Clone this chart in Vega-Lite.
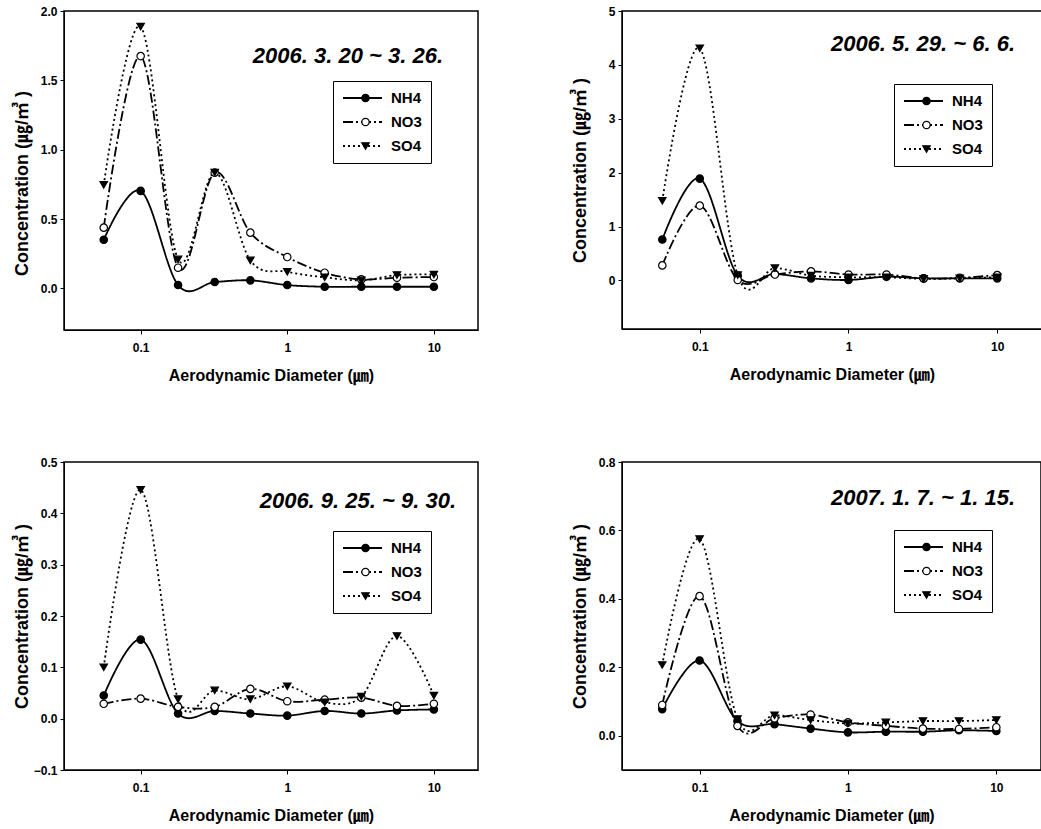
{
  "$schema": "https://vega.github.io/schema/vega-lite/v6.json",
  "background": "white",
  "padding": {"left": 12, "top": 4, "right": 2, "bottom": 0},
  "datasets": {
    "p1": [
      {"d": 0.056, "ion": "NH4", "c": 0.351}, {"d": 0.1, "ion": "NH4", "c": 0.703}, {"d": 0.18, "ion": "NH4", "c": 0.024}, {"d": 0.32, "ion": "NH4", "c": 0.046}, {"d": 0.56, "ion": "NH4", "c": 0.058}, {"d": 1.0, "ion": "NH4", "c": 0.024}, {"d": 1.8, "ion": "NH4", "c": 0.012}, {"d": 3.2, "ion": "NH4", "c": 0.012}, {"d": 5.6, "ion": "NH4", "c": 0.012}, {"d": 10, "ion": "NH4", "c": 0.012},
      {"d": 0.056, "ion": "NO3", "c": 0.438}, {"d": 0.1, "ion": "NO3", "c": 1.675}, {"d": 0.18, "ion": "NO3", "c": 0.149}, {"d": 0.32, "ion": "NO3", "c": 0.835}, {"d": 0.56, "ion": "NO3", "c": 0.402}, {"d": 1.0, "ion": "NO3", "c": 0.226}, {"d": 1.8, "ion": "NO3", "c": 0.113}, {"d": 3.2, "ion": "NO3", "c": 0.065}, {"d": 5.6, "ion": "NO3", "c": 0.077}, {"d": 10, "ion": "NO3", "c": 0.082},
      {"d": 0.056, "ion": "SO4", "c": 0.746}, {"d": 0.1, "ion": "SO4", "c": 1.887}, {"d": 0.18, "ion": "SO4", "c": 0.209}, {"d": 0.32, "ion": "SO4", "c": 0.835}, {"d": 0.56, "ion": "SO4", "c": 0.202}, {"d": 1.0, "ion": "SO4", "c": 0.12}, {"d": 1.8, "ion": "SO4", "c": 0.08}, {"d": 3.2, "ion": "SO4", "c": 0.058}, {"d": 5.6, "ion": "SO4", "c": 0.096}, {"d": 10, "ion": "SO4", "c": 0.1}
    ],
    "p2": [
      {"d": 0.056, "ion": "NH4", "c": 0.76}, {"d": 0.1, "ion": "NH4", "c": 1.89}, {"d": 0.18, "ion": "NH4", "c": 0.09}, {"d": 0.32, "ion": "NH4", "c": 0.12}, {"d": 0.56, "ion": "NH4", "c": 0.04}, {"d": 1.0, "ion": "NH4", "c": 0.01}, {"d": 1.8, "ion": "NH4", "c": 0.07}, {"d": 3.2, "ion": "NH4", "c": 0.04}, {"d": 5.6, "ion": "NH4", "c": 0.04}, {"d": 10, "ion": "NH4", "c": 0.04},
      {"d": 0.056, "ion": "NO3", "c": 0.28}, {"d": 0.1, "ion": "NO3", "c": 1.39}, {"d": 0.18, "ion": "NO3", "c": 0.01}, {"d": 0.32, "ion": "NO3", "c": 0.11}, {"d": 0.56, "ion": "NO3", "c": 0.17}, {"d": 1.0, "ion": "NO3", "c": 0.11}, {"d": 1.8, "ion": "NO3", "c": 0.11}, {"d": 3.2, "ion": "NO3", "c": 0.04}, {"d": 5.6, "ion": "NO3", "c": 0.05}, {"d": 10, "ion": "NO3", "c": 0.1},
      {"d": 0.056, "ion": "SO4", "c": 1.48}, {"d": 0.1, "ion": "SO4", "c": 4.31}, {"d": 0.18, "ion": "SO4", "c": 0.1}, {"d": 0.32, "ion": "SO4", "c": 0.23}, {"d": 0.56, "ion": "SO4", "c": 0.09}, {"d": 1.0, "ion": "SO4", "c": 0.06}, {"d": 1.8, "ion": "SO4", "c": 0.06}, {"d": 3.2, "ion": "SO4", "c": 0.03}, {"d": 5.6, "ion": "SO4", "c": 0.04}, {"d": 10, "ion": "SO4", "c": 0.06}
    ],
    "p3": [
      {"d": 0.056, "ion": "NH4", "c": 0.045}, {"d": 0.1, "ion": "NH4", "c": 0.154}, {"d": 0.18, "ion": "NH4", "c": 0.01}, {"d": 0.32, "ion": "NH4", "c": 0.015}, {"d": 0.56, "ion": "NH4", "c": 0.01}, {"d": 1.0, "ion": "NH4", "c": 0.006}, {"d": 1.8, "ion": "NH4", "c": 0.015}, {"d": 3.2, "ion": "NH4", "c": 0.01}, {"d": 5.6, "ion": "NH4", "c": 0.016}, {"d": 10, "ion": "NH4", "c": 0.018},
      {"d": 0.056, "ion": "NO3", "c": 0.029}, {"d": 0.1, "ion": "NO3", "c": 0.039}, {"d": 0.18, "ion": "NO3", "c": 0.023}, {"d": 0.32, "ion": "NO3", "c": 0.023}, {"d": 0.56, "ion": "NO3", "c": 0.058}, {"d": 1.0, "ion": "NO3", "c": 0.034}, {"d": 1.8, "ion": "NO3", "c": 0.037}, {"d": 3.2, "ion": "NO3", "c": 0.041}, {"d": 5.6, "ion": "NO3", "c": 0.025}, {"d": 10, "ion": "NO3", "c": 0.029},
      {"d": 0.056, "ion": "SO4", "c": 0.1}, {"d": 0.1, "ion": "SO4", "c": 0.446}, {"d": 0.18, "ion": "SO4", "c": 0.038}, {"d": 0.32, "ion": "SO4", "c": 0.055}, {"d": 0.56, "ion": "SO4", "c": 0.038}, {"d": 1.0, "ion": "SO4", "c": 0.063}, {"d": 1.8, "ion": "SO4", "c": 0.032}, {"d": 3.2, "ion": "SO4", "c": 0.043}, {"d": 5.6, "ion": "SO4", "c": 0.161}, {"d": 10, "ion": "SO4", "c": 0.045}
    ],
    "p4": [
      {"d": 0.056, "ion": "NH4", "c": 0.078}, {"d": 0.1, "ion": "NH4", "c": 0.22}, {"d": 0.18, "ion": "NH4", "c": 0.043}, {"d": 0.32, "ion": "NH4", "c": 0.034}, {"d": 0.56, "ion": "NH4", "c": 0.021}, {"d": 1.0, "ion": "NH4", "c": 0.01}, {"d": 1.8, "ion": "NH4", "c": 0.012}, {"d": 3.2, "ion": "NH4", "c": 0.012}, {"d": 5.6, "ion": "NH4", "c": 0.016}, {"d": 10, "ion": "NH4", "c": 0.014},
      {"d": 0.056, "ion": "NO3", "c": 0.09}, {"d": 0.1, "ion": "NO3", "c": 0.408}, {"d": 0.18, "ion": "NO3", "c": 0.029}, {"d": 0.32, "ion": "NO3", "c": 0.051}, {"d": 0.56, "ion": "NO3", "c": 0.062}, {"d": 1.0, "ion": "NO3", "c": 0.039}, {"d": 1.8, "ion": "NO3", "c": 0.029}, {"d": 3.2, "ion": "NO3", "c": 0.021}, {"d": 5.6, "ion": "NO3", "c": 0.02}, {"d": 10, "ion": "NO3", "c": 0.025},
      {"d": 0.056, "ion": "SO4", "c": 0.207}, {"d": 0.1, "ion": "SO4", "c": 0.575}, {"d": 0.18, "ion": "SO4", "c": 0.049}, {"d": 0.32, "ion": "SO4", "c": 0.06}, {"d": 0.56, "ion": "SO4", "c": 0.046}, {"d": 1.0, "ion": "SO4", "c": 0.036}, {"d": 1.8, "ion": "SO4", "c": 0.039}, {"d": 3.2, "ion": "SO4", "c": 0.043}, {"d": 5.6, "ion": "SO4", "c": 0.043}, {"d": 10, "ion": "SO4", "c": 0.046}
    ]
  },
  "columns": 2,
  "spacing": {"row": 71, "column": 91},
  "resolve": {
    "scale": {"strokeDash": "independent", "shape": "independent", "fill": "independent", "stroke": "independent"},
    "legend": {"strokeDash": "independent", "shape": "independent", "fill": "independent", "stroke": "independent"}
  },
  "concat": [
    {
      "width": 414, "height": 319,
      "data": {"name": "p1"},
      "title": {"text": "2006. 3. 20 ~ 3. 26.", "offset": -63, "dx": -35},
      "encoding": {
        "x": {"field": "d", "type": "quantitative", "scale": {"type": "log", "domain": [0.03, 20], "nice": false}, "axis": {"values": [0.1, 1, 10], "format": "~g", "title": "Aerodynamic Diameter (㎛)"}},
        "y": {"field": "c", "type": "quantitative", "scale": {"domain": [-0.3, 2], "nice": false, "zero": false}, "axis": {"values": [0, 0.5, 1, 1.5, 2], "format": ".1f", "title": "Concentration  (㎍/㎥ )", "titleY": 172}}
      },
      "layer": [
        {"mark": {"type": "line", "interpolate": "cardinal", "color": "black", "strokeWidth": 1.8},
         "encoding": {"strokeDash": {"field": "ion", "type": "nominal", "scale": {"domain": ["NH4", "NO3", "SO4"], "range": [[1, 0], [10, 3, 2, 3], [2, 3]]},
           "legend": {"orient": "none", "legendX": 269, "legendY": 70, "title": null, "symbolType": "stroke", "symbolSize": 1521, "symbolStrokeWidth": 2, "symbolStrokeColor": "black", "strokeColor": "black", "padding": 9, "rowPadding": 8, "labelOffset": 8, "clipHeight": 16}}}},
        {"mark": {"type": "point", "filled": true, "size": 55, "strokeWidth": 1.2, "opacity": 1},
         "encoding": {
           "shape": {"field": "ion", "type": "nominal", "scale": {"range": ["circle", "circle", "triangle-down"]}, "legend": {"orient": "none", "legendX": 269, "legendY": 70, "title": null, "symbolSize": 55, "symbolStrokeWidth": 1.2, "padding": 9, "rowPadding": 8, "labelOffset": 8, "labelExpr": "''", "symbolOffset": 16, "clipHeight": 16}},
           "fill": {"field": "ion", "type": "nominal", "scale": {"range": ["black", "white", "black"]}, "legend": {"orient": "none", "legendX": 269, "legendY": 70, "title": null, "symbolSize": 55, "symbolStrokeWidth": 1.2, "padding": 9, "rowPadding": 8, "labelOffset": 8, "labelExpr": "''", "symbolOffset": 16, "clipHeight": 16}},
           "stroke": {"field": "ion", "type": "nominal", "scale": {"range": ["black", "black", "black"]}, "legend": {"orient": "none", "legendX": 269, "legendY": 70, "title": null, "symbolSize": 55, "symbolStrokeWidth": 1.2, "padding": 9, "rowPadding": 8, "labelOffset": 8, "labelExpr": "''", "symbolOffset": 16, "clipHeight": 16}}
         }}
      ]
    },
    {
      "width": 420, "height": 318,
      "data": {"name": "p2"},
      "title": {"text": "2006. 5. 29. ~ 6. 6.", "offset": -51, "dx": -27},
      "encoding": {
        "x": {"field": "d", "type": "quantitative", "scale": {"type": "log", "domain": [0.03, 20], "nice": false}, "axis": {"values": [0.1, 1, 10], "format": "~g", "title": "Aerodynamic Diameter (㎛)"}},
        "y": {"field": "c", "type": "quantitative", "scale": {"domain": [-0.9, 5], "nice": false, "zero": false}, "axis": {"values": [0, 1, 2, 3, 4, 5], "format": "d", "title": "Concentration  (㎍/㎥ )"}}
      },
      "layer": [
        {"mark": {"type": "line", "interpolate": "cardinal", "color": "black", "strokeWidth": 1.8},
         "encoding": {"strokeDash": {"field": "ion", "type": "nominal", "scale": {"domain": ["NH4", "NO3", "SO4"], "range": [[1, 0], [10, 3, 2, 3], [2, 3]]},
           "legend": {"orient": "none", "legendX": 272, "legendY": 73, "title": null, "symbolType": "stroke", "symbolSize": 1521, "symbolStrokeWidth": 2, "symbolStrokeColor": "black", "strokeColor": "black", "padding": 9, "rowPadding": 8, "labelOffset": 8, "clipHeight": 16}}}},
        {"mark": {"type": "point", "filled": true, "size": 55, "strokeWidth": 1.2, "opacity": 1},
         "encoding": {
           "shape": {"field": "ion", "type": "nominal", "scale": {"range": ["circle", "circle", "triangle-down"]}, "legend": {"orient": "none", "legendX": 272, "legendY": 73, "title": null, "symbolSize": 55, "symbolStrokeWidth": 1.2, "padding": 9, "rowPadding": 8, "labelOffset": 8, "labelExpr": "''", "symbolOffset": 16, "clipHeight": 16}},
           "fill": {"field": "ion", "type": "nominal", "scale": {"range": ["black", "white", "black"]}, "legend": {"orient": "none", "legendX": 272, "legendY": 73, "title": null, "symbolSize": 55, "symbolStrokeWidth": 1.2, "padding": 9, "rowPadding": 8, "labelOffset": 8, "labelExpr": "''", "symbolOffset": 16, "clipHeight": 16}},
           "stroke": {"field": "ion", "type": "nominal", "scale": {"range": ["black", "black", "black"]}, "legend": {"orient": "none", "legendX": 272, "legendY": 73, "title": null, "symbolSize": 55, "symbolStrokeWidth": 1.2, "padding": 9, "rowPadding": 8, "labelOffset": 8, "labelExpr": "''", "symbolOffset": 16, "clipHeight": 16}}
         }}
      ]
    },
    {
      "width": 414, "height": 308,
      "data": {"name": "p3"},
      "title": {"text": "2006. 9. 25. ~ 9. 30.", "offset": -57, "dx": -22},
      "encoding": {
        "x": {"field": "d", "type": "quantitative", "scale": {"type": "log", "domain": [0.03, 20], "nice": false}, "axis": {"values": [0.1, 1, 10], "format": "~g", "title": "Aerodynamic Diameter (㎛)"}},
        "y": {"field": "c", "type": "quantitative", "scale": {"domain": [-0.1, 0.5], "nice": false, "zero": false}, "axis": {"values": [-0.1, 0, 0.1, 0.2, 0.3, 0.4, 0.5], "format": ".1f", "title": "Concentration  (㎍/㎥ )"}}
      },
      "layer": [
        {"mark": {"type": "line", "interpolate": "cardinal", "color": "black", "strokeWidth": 1.8},
         "encoding": {"strokeDash": {"field": "ion", "type": "nominal", "scale": {"domain": ["NH4", "NO3", "SO4"], "range": [[1, 0], [10, 3, 2, 3], [2, 3]]},
           "legend": {"orient": "none", "legendX": 269, "legendY": 69, "title": null, "symbolType": "stroke", "symbolSize": 1521, "symbolStrokeWidth": 2, "symbolStrokeColor": "black", "strokeColor": "black", "padding": 9, "rowPadding": 8, "labelOffset": 8, "clipHeight": 16}}}},
        {"mark": {"type": "point", "filled": true, "size": 55, "strokeWidth": 1.2, "opacity": 1},
         "encoding": {
           "shape": {"field": "ion", "type": "nominal", "scale": {"range": ["circle", "circle", "triangle-down"]}, "legend": {"orient": "none", "legendX": 269, "legendY": 69, "title": null, "symbolSize": 55, "symbolStrokeWidth": 1.2, "padding": 9, "rowPadding": 8, "labelOffset": 8, "labelExpr": "''", "symbolOffset": 16, "clipHeight": 16}},
           "fill": {"field": "ion", "type": "nominal", "scale": {"range": ["black", "white", "black"]}, "legend": {"orient": "none", "legendX": 269, "legendY": 69, "title": null, "symbolSize": 55, "symbolStrokeWidth": 1.2, "padding": 9, "rowPadding": 8, "labelOffset": 8, "labelExpr": "''", "symbolOffset": 16, "clipHeight": 16}},
           "stroke": {"field": "ion", "type": "nominal", "scale": {"range": ["black", "black", "black"]}, "legend": {"orient": "none", "legendX": 269, "legendY": 69, "title": null, "symbolSize": 55, "symbolStrokeWidth": 1.2, "padding": 9, "rowPadding": 8, "labelOffset": 8, "labelExpr": "''", "symbolOffset": 16, "clipHeight": 16}}
         }}
      ]
    },
    {
      "width": 419, "height": 308,
      "data": {"name": "p4"},
      "title": {"text": "2007. 1. 7. ~ 1. 15.", "offset": -54, "dx": -26},
      "encoding": {
        "x": {"field": "d", "type": "quantitative", "scale": {"type": "log", "domain": [0.03, 20], "nice": false}, "axis": {"values": [0.1, 1, 10], "format": "~g", "title": "Aerodynamic Diameter (㎛)"}},
        "y": {"field": "c", "type": "quantitative", "scale": {"domain": [-0.1, 0.8], "nice": false, "zero": false}, "axis": {"values": [0, 0.2, 0.4, 0.6, 0.8], "format": ".1f", "title": "Concentration  (㎍/㎥ )"}}
      },
      "layer": [
        {"mark": {"type": "line", "interpolate": "cardinal", "color": "black", "strokeWidth": 1.8},
         "encoding": {"strokeDash": {"field": "ion", "type": "nominal", "scale": {"domain": ["NH4", "NO3", "SO4"], "range": [[1, 0], [10, 3, 2, 3], [2, 3]]},
           "legend": {"orient": "none", "legendX": 272, "legendY": 68, "title": null, "symbolType": "stroke", "symbolSize": 1521, "symbolStrokeWidth": 2, "symbolStrokeColor": "black", "strokeColor": "black", "padding": 9, "rowPadding": 8, "labelOffset": 8, "clipHeight": 16}}}},
        {"mark": {"type": "point", "filled": true, "size": 55, "strokeWidth": 1.2, "opacity": 1},
         "encoding": {
           "shape": {"field": "ion", "type": "nominal", "scale": {"range": ["circle", "circle", "triangle-down"]}, "legend": {"orient": "none", "legendX": 272, "legendY": 68, "title": null, "symbolSize": 55, "symbolStrokeWidth": 1.2, "padding": 9, "rowPadding": 8, "labelOffset": 8, "labelExpr": "''", "symbolOffset": 16, "clipHeight": 16}},
           "fill": {"field": "ion", "type": "nominal", "scale": {"range": ["black", "white", "black"]}, "legend": {"orient": "none", "legendX": 272, "legendY": 68, "title": null, "symbolSize": 55, "symbolStrokeWidth": 1.2, "padding": 9, "rowPadding": 8, "labelOffset": 8, "labelExpr": "''", "symbolOffset": 16, "clipHeight": 16}},
           "stroke": {"field": "ion", "type": "nominal", "scale": {"range": ["black", "black", "black"]}, "legend": {"orient": "none", "legendX": 272, "legendY": 68, "title": null, "symbolSize": 55, "symbolStrokeWidth": 1.2, "padding": 9, "rowPadding": 8, "labelOffset": 8, "labelExpr": "''", "symbolOffset": 16, "clipHeight": 16}}
         }}
      ]
    }
  ],
  "config": {
    "font": "Liberation Sans",
    "view": {"stroke": "black", "strokeWidth": 1.5},
    "axis": {"grid": false, "domainColor": "black", "tickColor": "black", "tickSize": 4, "labelColor": "black", "labelFont": "Liberation Sans", "labelFontSize": 12, "labelFontWeight": "bold", "titleFont": "Liberation Sans, Noto Sans CJK KR", "titleFontWeight": "bold", "titleColor": "black"},
    "axisX": {"labelPadding": 8, "titlePadding": 14, "titleFontSize": 16},
    "axisY": {"labelPadding": 3, "titlePadding": 5, "titleFontSize": 18, "minExtent": 28, "maxExtent": 28},
    "title": {"font": "Liberation Sans", "fontSize": 22, "fontStyle": "italic", "fontWeight": "bold", "color": "black", "anchor": "end", "frame": "group"},
    "legend": {"labelFont": "Liberation Sans", "labelFontSize": 15, "labelFontWeight": "bold", "labelColor": "black"}
  }
}
